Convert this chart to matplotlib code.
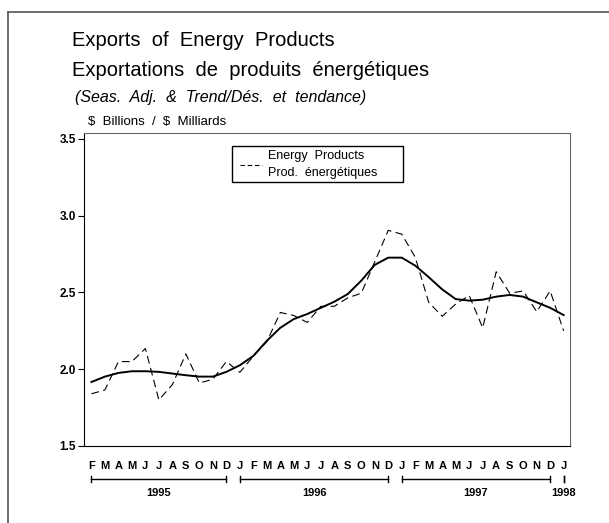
import matplotlib
matplotlib.use("Agg")
import matplotlib.pyplot as plt
from matplotlib.lines import Line2D
from matplotlib.patches import Rectangle
import matplotlib.transforms as mtransforms

plt.rcParams['font.family'] = ['Liberation Sans', 'DejaVu Sans']

W, H = 609, 523

month_labels = ["F", "M", "A", "M", "J", "J", "A", "S", "O", "N", "D",
                "J", "F", "M", "A", "M", "J", "J", "A", "S", "O", "N", "D",
                "J", "F", "M", "A", "M", "J", "J", "A", "S", "O", "N", "D",
                "J"]
energy = [1.84, 1.865, 2.05, 2.05, 2.135, 1.80, 1.90, 2.10, 1.91, 1.935, 2.05, 1.98,
          2.085, 2.18, 2.37, 2.35, 2.305, 2.41, 2.41, 2.465, 2.495, 2.70, 2.905, 2.88,
          2.73, 2.435, 2.345, 2.425, 2.48, 2.27, 2.635, 2.495, 2.51, 2.375, 2.51, 2.25]
trend = [1.917, 1.952, 1.976, 1.987, 1.987, 1.983, 1.972, 1.961, 1.952, 1.952, 1.983, 2.026,
         2.087, 2.185, 2.27, 2.327, 2.36, 2.40, 2.44, 2.49, 2.577, 2.68, 2.727, 2.727,
         2.675, 2.60, 2.52, 2.457, 2.447, 2.453, 2.473, 2.484, 2.473, 2.436, 2.40, 2.353]
years = ["1995", "1996", "1997", "1998"]
year_spans = [(0, 10), (11, 22), (23, 34), (35, 35)]
yticks = [1.5, 2.0, 2.5, 3.0, 3.5]
legend_lines = ["Energy  Products", "Prod.  énergétiques"]

fig = plt.figure(figsize=(W / 100, H / 100), dpi=100)

def fx(px):
    return px / W

def fy(py):
    return 1 - py / H

# outer frame (left and top)
fig.add_artist(Line2D([fx(8), fx(8)], [fy(12), 0], color='#555555', lw=1.2, transform=fig.transFigure))
fig.add_artist(Line2D([fx(8), 1], [fy(12), fy(12)], color='#555555', lw=1.2, transform=fig.transFigure))

ax = fig.add_axes([fx(84), fy(446), fx(570) - fx(84), fy(133) - fy(446)])
x = list(range(len(energy)))
ax.plot(x, energy, color='black', lw=0.8, dashes=(7, 4))
ax.plot(x, trend, color='black', lw=1.4)

ax.set_xlim(-0.55, 35.47)
ax.set_ylim(1.5, 3.539)
ax.set_yticks(yticks)
ax.set_yticklabels([f"{v:.1f}" for v in yticks], fontweight='bold', fontsize=8.5)
ax.tick_params(axis='y', direction='out', length=4, width=0.8, pad=2)
ax.set_xticks(x)
ax.set_xticklabels(month_labels, fontweight='bold', fontsize=8)
ax.tick_params(axis='x', length=0, pad=11)
for s in ['top', 'right']:
    ax.spines[s].set_color('#666666')
for s in ['left', 'bottom']:
    ax.spines[s].set_color('black')

trans = mtransforms.blended_transform_factory(ax.transData, ax.transAxes)
yb = (446 - 479) / 313
for (a, b), lab in zip(year_spans, years):
    if b > a:
        ax.add_line(Line2D([a, b], [yb, yb], color='black', lw=1.0, transform=trans, clip_on=False))
    for e in (a, b):
        ax.add_line(Line2D([e, e], [yb - 0.01, yb + 0.01], color='black', lw=1.0, transform=trans, clip_on=False))
    ax.text((a + b) / 2, yb - 0.03, lab, transform=trans, ha='center', va='top',
            fontweight='bold', fontsize=8)

# legend box (drawn by hand to match the two-line entry)
fig.add_artist(Rectangle((fx(232), fy(182)), fx(403) - fx(232), fy(146) - fy(182),
                         transform=fig.transFigure, fill=True, facecolor='white',
                         edgecolor='black', lw=1.0))
fig.add_artist(Line2D([fx(240), fx(262)], [fy(165), fy(165)], color='black', lw=0.8,
                      dashes=(4, 2.5), transform=fig.transFigure))
fig.text(fx(268), fy(156), legend_lines[0], fontsize=9, va='center')
fig.text(fx(268), fy(173), legend_lines[1], fontsize=9, va='center')

fig.text(fx(72), fy(46), "Exports  of  Energy  Products", fontsize=14.5, va='baseline')
fig.text(fx(72), fy(76), "Exportations  de  produits  énergétiques", fontsize=14.5, va='baseline')
fig.text(fx(75), fy(102), "(Seas.  Adj.  &  Trend/Dés.  et  tendance)", fontsize=11.5, style='italic', va='baseline')
fig.text(fx(88), fy(125), r"\$  Billions  /  \$  Milliards", fontsize=9.5, va='baseline')

fig.savefig("out.png", dpi=100)
